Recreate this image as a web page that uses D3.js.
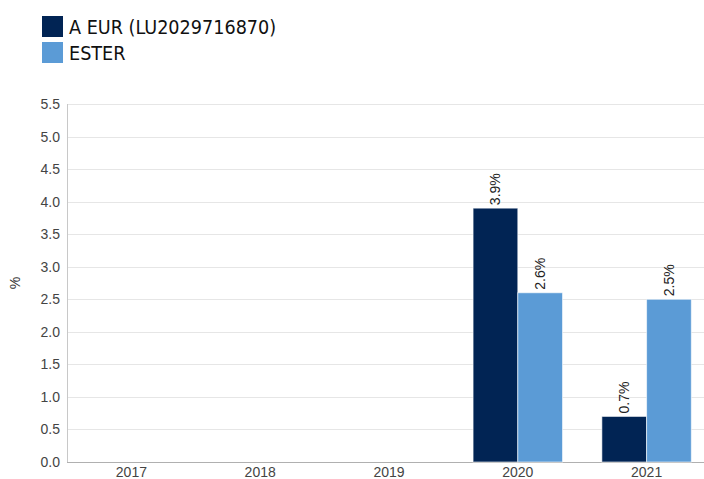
<!DOCTYPE html>
<html>
<head>
<meta charset="utf-8">
<script src="https://cdn.jsdelivr.net/npm/d3@7"></script>
<style>
html,body{margin:0;padding:0;background:#fff;}
svg{display:block;}
</style>
</head>
<body>
<svg id="chart" width="704" height="479"></svg>
<script>
const categories = ["2017", "2018", "2019", "2020", "2021"];
const seriesNames = ["A EUR (LU2029716870)", "ESTER"];
const seriesColors = ["#012454", "#5b9bd6"];
const fundValues = [null, null, null, 3.9, 0.7];
const esterValues = [null, null, null, 2.6, 2.5];
const yTicks = [0, 0.5, 1, 1.5, 2, 2.5, 3, 3.5, 4, 4.5, 5, 5.5];

(function () {
const svg = d3.select("#chart");
const pl = 67, pr = 711, pt = 104, pb = 462;

const x = d3.scaleBand().domain(categories).range([pl, pr]).paddingInner(0).paddingOuter(0);
const xs = d3.scaleBand().domain([0, 1]).range([0, x.bandwidth()]).paddingInner(0).paddingOuter(0.44);
const y = d3.scaleLinear().domain([0, 5.5]).range([pb, pt]);

// gridlines
svg.append("g").selectAll("line").data(yTicks).join("line")
  .attr("x1", pl).attr("x2", 704)
  .attr("y1", d => Math.round(y(d)) + 0.5).attr("y2", d => Math.round(y(d)) + 0.5)
  .attr("stroke", "#e6e6e6").attr("stroke-width", 1);

// y axis
const yAxis = d3.axisLeft(y).tickValues(yTicks).tickFormat(d3.format(".1f")).tickSize(0).tickPadding(7);
const yg = svg.append("g").attr("transform", `translate(${pl},0)`).call(yAxis);
yg.select(".domain").remove();
yg.selectAll("text").attr("font-family", "Liberation Sans, Arial, sans-serif").attr("font-size", "14px").attr("fill", "#444");
svg.append("line").attr("x1", pl + 0.5).attr("x2", pl + 0.5).attr("y1", pt).attr("y2", pb)
  .attr("stroke", "#c8c8c8");

// x axis
const xAxis = d3.axisBottom(x).tickSize(0).tickPadding(5);
const xg = svg.append("g").attr("transform", `translate(0,${pb})`).call(xAxis);
xg.select(".domain").remove();
xg.selectAll("text").attr("font-family", "Liberation Sans, Arial, sans-serif").attr("font-size", "14px").attr("fill", "#444");
svg.append("line").attr("x1", pl).attr("x2", 704).attr("y1", pb + 0.5).attr("y2", pb + 0.5)
  .attr("stroke", "#b0b0b0");

// y label
svg.append("text").attr("transform", `translate(20,283) rotate(-90)`)
  .attr("text-anchor", "middle").attr("font-family", "Liberation Sans, Arial, sans-serif")
  .attr("font-size", "14px").attr("fill", "#333").text("%");

// bars
const series = [fundValues, esterValues];
series.forEach((vals, si) => {
  const data = categories.map((c, i) => ({c, v: vals[i]})).filter(d => d.v != null);
  const g = svg.append("g");
  g.selectAll("rect").data(data).join("rect")
    .attr("x", d => x(d.c) + xs(si))
    .attr("width", xs.bandwidth())
    .attr("y", d => y(d.v))
    .attr("height", d => y(0) - y(d.v))
    .attr("fill", seriesColors[si])
    .attr("stroke", "#ffffff").attr("stroke-width", 1).attr("stroke-opacity", 0.6);
  g.selectAll("text").data(data).join("text")
    .attr("transform", d => `translate(${x(d.c) + xs(si) + xs.bandwidth() / 2 + 5},${y(d.v) - 3}) rotate(-90)`)
    .attr("text-anchor", "start")
    .attr("font-family", "Liberation Sans, Arial, sans-serif")
    .attr("font-size", "14px").attr("fill", "#222")
    .text(d => d.v.toFixed(1) + "%");
});

// legend
const lg = svg.append("g");
seriesNames.forEach((n, i) => {
  lg.append("rect").attr("x", 42).attr("y", 16 + i * 26).attr("width", 21).attr("height", 21)
    .attr("fill", seriesColors[i]);
  lg.append("text").attr("x", 69).attr("y", 34 + i * 26)
    .attr("font-family", "DejaVu Sans Condensed, DejaVu Sans, sans-serif")
    .attr("font-stretch", "condensed")
    .attr("font-size", "19.6px").attr("fill", "#111").text(n);
});
})();
</script>
</body>
</html>
